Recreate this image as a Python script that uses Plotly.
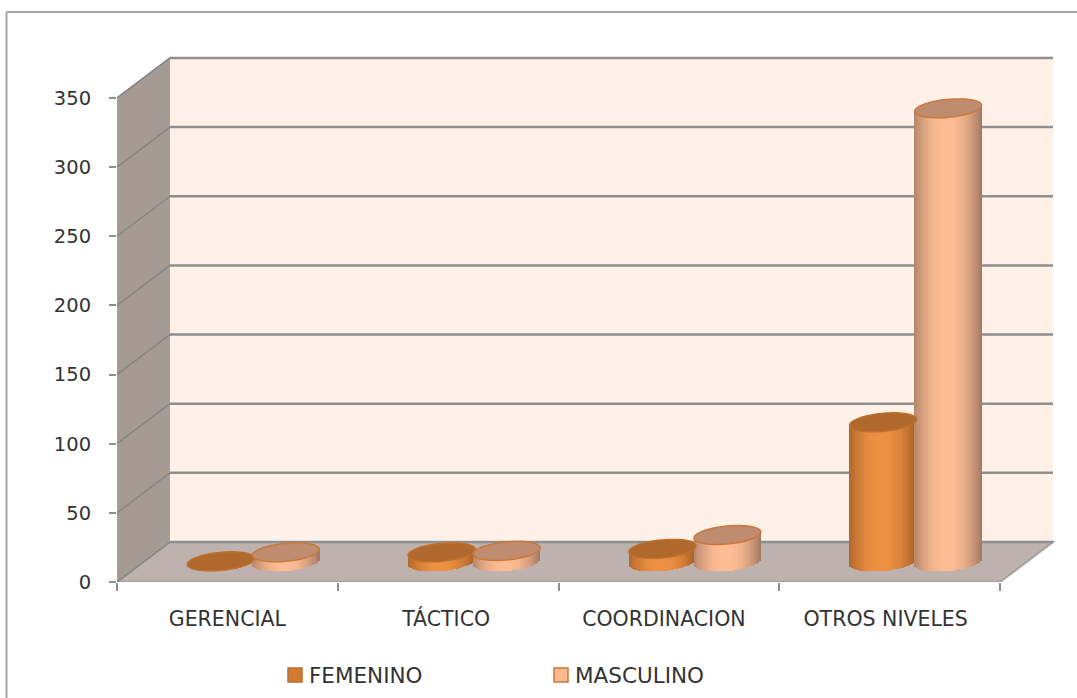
import numpy as np
import plotly.graph_objects as go

# Values
categories = ["GERENCIAL", "TÁCTICO", "COORDINACION", "OTROS NIVELES"]
femenino = [0.5, 7, 9.5, 101]
masculino = [7, 8, 19.5, 328]
y_ticks = [0, 50, 100, 150, 200, 250, 300, 350]
legend_names = ["FEMENINO", "MASCULINO"]

FONT = "DejaVu Sans"
WIDTH, HEIGHT = 1077, 698
M_L, M_R, M_T, M_B = 117, 22, 50, 116

# pixel scales of the axes
PX_X = 220.75   # px per category
PX_Y = 1.383    # px per value unit

# depth of the fake 3d box
DX = 53 / PX_X
DY = 40 / PX_Y
BOX_W = 4

# cylinder geometry
CYL_W = 33.5 / PX_X      # half width
CYL_H = 9 / PX_Y         # half height of the ellipse
TILT = 3 / 33.5 * PX_X / PX_Y   # rise of the ellipse axis
BASE = DY / 2
SHIFT = DX / 2
N_STRIPS = 36

# labels in the original sit a little left of the category centres
LABEL_NUDGE = [0, -2, -5, -4]


def shade(dark, light, t):
    # cylinder shading, t runs -1..1 across the width
    k = 1 - ((t + 0.05) / 1.05) ** 2
    k = max(0.0, min(1.0, k)) ** 0.9
    c = [int(d + (l - d) * k) for d, l in zip(dark, light)]
    return f"rgb({c[0]},{c[1]},{c[2]})"


def cylinder(cx, value, dark, light):
    step = 2 * CYL_W / N_STRIPS
    t = (np.arange(N_STRIPS) + 0.5) / N_STRIPS * 2 - 1
    x = cx + t * CYL_W
    arc = CYL_H * np.sqrt(1 - t ** 2)
    bottom = BASE + TILT * (x - cx) - arc
    top = BASE + value + TILT * (x - cx)
    return go.Bar(
        x=x, y=top - bottom, base=bottom, width=step * 1.15,
        marker=dict(color=[shade(dark, light, v) for v in t], line_width=0),
        showlegend=False, hoverinfo="skip",
    )


def ellipse_path(cx, cy):
    t = np.linspace(0, 2 * np.pi, 60)
    x = cx + CYL_W * np.cos(t)
    y = cy + TILT * CYL_W * np.cos(t) + CYL_H * np.sin(t)
    return "M" + "L".join(f"{a:.4f},{b:.3f}" for a, b in zip(x, y)) + "Z"


def poly(points):
    return "M" + "L".join(f"{a:.4f},{b:.3f}" for a, b in points) + "Z"


fig = go.Figure()
shapes = []

# walls and floor
top_y = y_ticks[-1]
shapes.append(dict(type="path", layer="below", line=dict(color="#a3a3a3", width=1.5), fillcolor="#a59a94",
                   path=poly([(0, 0), (0, top_y), (DX, top_y + DY), (DX, DY)])))
shapes.append(dict(type="rect", layer="below", line_width=0, fillcolor="#fff0e8",
                   x0=DX, x1=DX + BOX_W, y0=DY, y1=top_y + DY))
shapes.append(dict(type="path", layer="below", line=dict(color="#a3a3a3", width=2), fillcolor="#bdb2ad",
                   path=poly([(0, 0), (DX, DY), (DX + BOX_W, DY), (BOX_W, 0)])))

# gridlines, back wall and side wall
for v in y_ticks:
    shapes.append(dict(type="line", layer="below", line=dict(color="#8f8f8f", width=2.5),
                       x0=DX, x1=DX + BOX_W, y0=v + DY, y1=v + DY))
    shapes.append(dict(type="line", layer="below", line=dict(color="#858585", width=1.5),
                       x0=0, x1=DX, y0=v, y1=v + DY))

series = [
    (femenino, -33, (160, 92, 38), (238, 145, 68), "#b0692c", "#bf6f2d"),
    (masculino, 32, (160, 118, 98), (255, 190, 148), "#c08c70", "#c8793a"),
]

for i in range(len(categories)):
    for vals, off, dark, light, cap, edge in series:
        cx = i + 0.5 + SHIFT + off / PX_X
        fig.add_trace(cylinder(cx, vals[i], dark, light))
        shapes.append(dict(type="path", layer="above", fillcolor=cap, line=dict(color=edge, width=1.5),
                           path=ellipse_path(cx, BASE + vals[i])))

px_x = lambda p: (p - M_L) / (WIDTH - M_L - M_R)
px_y = lambda p: 1 - (p - M_T) / (HEIGHT - M_T - M_B)

# legend drawn by hand, plotly's own keeps too wide a gap between swatch and text
annotations = []
swatches = [("#d27a30", "#b9702f", 288), ("#fdb98e", "#c8793a", 554)]
for name, (fill, edge, left) in zip(legend_names, swatches):
    shapes.append(dict(type="rect", xref="paper", yref="paper", fillcolor=fill, line=dict(color=edge, width=1.5),
                       x0=px_x(left), x1=px_x(left + 14), y0=px_y(682), y1=px_y(668)))
    annotations.append(dict(text=name, xref="paper", yref="paper", x=px_x(left + 20), y=px_y(675),
                            xanchor="left", yanchor="middle", showarrow=False, xshift=-1,
                            font=dict(size=21.5)))

# outer frame of the picture (only left and top are in view)
shapes.append(dict(type="line", xref="paper", yref="paper", line=dict(color="#a6a6a6", width=2),
                   x0=px_x(6.5), x1=px_x(6.5), y0=px_y(12), y1=px_y(698)))
shapes.append(dict(type="line", xref="paper", yref="paper", line=dict(color="#a6a6a6", width=2),
                   x0=px_x(6.5), x1=px_x(1077), y0=px_y(12), y1=px_y(12)))

fig.update_layout(
    width=WIDTH, height=HEIGHT,
    margin=dict(l=M_L, r=M_R, t=M_T, b=M_B),
    paper_bgcolor="white", plot_bgcolor="white",
    barmode="overlay", bargap=0,
    font=dict(family=FONT, size=19.5, color="#333333"),
    shapes=shapes, annotations=annotations,
    showlegend=False,
    xaxis=dict(
        range=[0, (WIDTH - M_L - M_R) / PX_X], showgrid=False, zeroline=False,
        tickvals=[i + 0.5 + n / PX_X for i, n in enumerate(LABEL_NUDGE)], ticktext=categories,
        ticks="outside", tickcolor="rgba(0,0,0,0)", ticklen=18, tickfont=dict(size=20.5),
        minor=dict(tickvals=list(range(len(categories) + 1)), ticks="outside", ticklen=8,
                   tickcolor="#8f8f8f", tickwidth=1.5, showgrid=False),
    ),
    yaxis=dict(
        range=[0, (HEIGHT - M_T - M_B) / PX_Y], showgrid=False, zeroline=False,
        tickvals=y_ticks, ticks="outside", ticklen=21, tickcolor="rgba(0,0,0,0)",
        minor=dict(tickvals=y_ticks, ticks="outside", ticklen=7, tickcolor="#8f8f8f",
                   tickwidth=1.5, showgrid=False),
    ),
)

# the page's default body margin would push the figure 8px in
fig.write_html("out.html", config=dict(displayModeBar=False),
               post_script="document.body.style.margin='0';")
